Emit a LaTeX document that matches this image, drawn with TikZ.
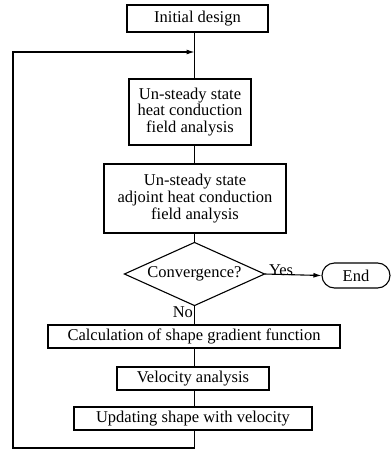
\documentclass[tikz,border=0pt]{standalone}
\usepackage{fontspec}
\setmainfont{Liberation Serif}
\usetikzlibrary{arrows.meta, positioning, shapes.misc}

\begin{document}
\begin{tikzpicture}[
    x=1pt, y=-1pt,
    >={Latex[length=8pt,width=5pt]},
    line width=1.1pt,
    box/.style={draw, rectangle, inner sep=0pt, align=center, font=\fontsize{16.5}{16.7}\selectfont},
    tag/.style={inner sep=1pt, font=\fontsize{16.5}{16.7}\selectfont}
]
\useasboundingbox (0,0) rectangle (391,458);

% boxes
\node[box, minimum width=141pt, minimum height=27pt] (init) at (197.5,18.5) {Initial design};
\node[box, minimum width=122pt, minimum height=66pt] (heat) at (190,112) {Un-steady state\\heat conduction\\field analysis};
\node[box, minimum width=182pt, minimum height=69pt] (adj) at (195,198.5) {Un-steady state\\adjoint heat conduction\\field analysis};
\node[box, draw=none, minimum width=139pt, minimum height=62pt] (conv) at (194.5,274) {Convergence?};
\node[box, rounded rectangle, minimum width=68pt, minimum height=25pt] (end) at (356,275.5) {End};
\node[box, minimum width=292pt, minimum height=23pt] (calc) at (194,336.5) {Calculation of shape gradient function};
\node[box, minimum width=152pt, minimum height=23pt] (vel) at (193,378.5) {Velocity analysis};
\node[box, minimum width=238pt, minimum height=23pt] (upd) at (193,418.5) {Updating shape with velocity};

% diamond outline
\draw (conv.west) -- (conv.north) -- (conv.east) -- (conv.south) -- cycle;

% labels
\node[tag, above right=-3pt and 3pt of conv.east] (yes) {Yes};
\node[tag, below left=0pt and 0pt of conv.south] (no) {No};

% spine and loop points
\coordinate (spine) at (194.5,0);
\coordinate (join) at (194.5,52);
\coordinate (loopbot) at (13,448);

% arrows
\draw (init.south -| spine) -- (heat.north -| spine);
\draw (heat.south -| spine) -- (adj.north -| spine);
\draw (adj.south -| spine) -- (conv.north);
\draw (conv.south) -- (calc.north -| spine);
\draw (calc.south -| spine) -- (vel.north -| spine);
\draw (vel.south -| spine) -- (upd.north -| spine);
\draw[->] (conv.east) -- (end.west);
\draw[->] (upd.south -| spine) -- (spine |- loopbot) -- (loopbot) -- (loopbot |- join) -- (join);

\end{tikzpicture}
\end{document}
